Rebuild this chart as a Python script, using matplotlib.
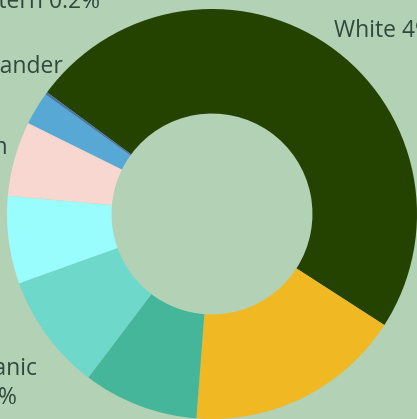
import matplotlib
matplotlib.use("Agg")
import matplotlib.pyplot as plt
import numpy as np

# ---- data ----
groups = ["White", "Black", "Other", "Hispanic", "Two or More", "American Indian",
          "Pacific Islander", "Middle Eastern"]
shares = [49.0, 17.1, 9.1, 9.2, 6.9, 5.9, 2.6, 0.2]
pct_text = ["49%", "17.1%", "9.1%", "9.2%", "6.9%", "5.9%", "2.6%", "0.2%"]
colors = ["#244301", "#f0b823", "#45b69a", "#6ed8ca", "#99fdfd", "#f7d7cf",
          "#58a8d6", "#4a73a6"]

BG = "#b3d1b5"
TXT = "#2f4a3d"

W, H = 417, 419
CX, CY, R = 212, 214, 205   # pixel centre (from top) and radius

fig = plt.figure(figsize=(W / 100, H / 100), dpi=100)
fig.patch.set_facecolor(BG)
ax = fig.add_axes([0, 0, 1, 1])
ax.set_facecolor(BG)

wedges, _ = ax.pie(shares, colors=colors, startangle=143.6, counterclock=False,
                   radius=1.0, wedgeprops=dict(width=0.51, linewidth=0))

ax.set_xlim(-CX / R, (W - CX) / R)
ax.set_ylim(-(H - CY) / R, CY / R)
ax.set_aspect("equal", adjustable="box")
ax.axis("off")


def px(x, y):
    return (x - CX) / R, (CY - y) / R


# layout: (one-line?, anchor x edge, first baseline y, alignment)
layout = {
    "White": (True, 334, 37, "left"),
    "Middle Eastern": (True, 100, 8, "right"),
    "Pacific Islander": (None, 63, 73, "right"),
    "American Indian": (False, 8, 154, "right"),
    "Hispanic": (False, 38, 375, "right"),
    "Black": (False, 340, 470, "left"),
    "Two or More": (False, -20, 250, "right"),
    "Other": (False, 120, 480, "right"),
}
LINE_GAP = 29
font = dict(family=["Open Sans", "DejaVu Sans"], size=16.5, color=TXT)
renderer = fig.canvas.get_renderer()

for g, p in zip(groups, pct_text):
    one, x, y, ha = layout[g]
    xd, yd = px(x, y)
    if one is True:
        ax.text(xd, yd, f"{g} {p}", ha=ha, va="baseline", clip_on=False, **font)
    elif one is None:
        ax.text(xd, yd, g, ha=ha, va="baseline", clip_on=False, **font)
    else:
        t1 = ax.text(xd, yd, g, ha=ha, va="baseline", clip_on=False, **font)
        bb = t1.get_window_extent(renderer)
        xc_pix = (bb.x0 + bb.x1) / 2
        xc = ax.transData.inverted().transform((xc_pix, 0))[0]
        _, yd2 = px(x, y + LINE_GAP)
        ax.text(xc, yd2, p, ha="center", va="baseline", clip_on=False, **font)

fig.savefig("out.png", dpi=100, facecolor=BG)
